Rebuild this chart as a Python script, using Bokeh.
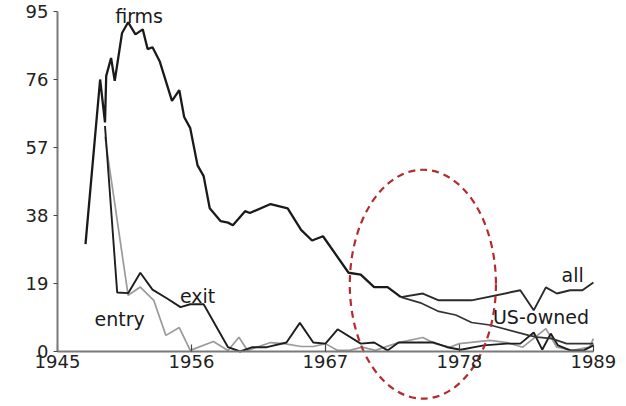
from bokeh.plotting import figure
from bokeh.models import Range1d, FixedTicker
from bokeh.core.properties import value
from bokeh.embed import file_html
from bokeh.resources import INLINE

# ---- data ----
firms_years = [1947.3, 1948.5, 1948.9, 1949.0, 1949.4, 1949.7, 1950.3, 1950.8, 1951.4, 1952.0,
               1952.4, 1952.8, 1953.4, 1954.4, 1955.0, 1955.4, 1955.9, 1956.5, 1957.0, 1957.5,
               1958.4, 1959.0, 1959.4, 1960.4, 1960.8, 1962.5, 1963.9, 1965.0, 1965.9, 1966.8,
               1968.9, 1969.9, 1971.0, 1972.1, 1973.2]
firms_values = [30, 76, 64, 77, 82, 75.6, 89, 92, 88.6, 90,
                84.5, 85, 81, 70, 73, 65.5, 62.4, 52, 49, 40,
                36.4, 36, 35.3, 39.2, 38.7, 41.2, 40, 34, 31, 32.2,
                22, 21.5, 18, 18, 15.2]

all_years = [1973.2, 1975.0, 1976.3, 1979.0, 1983.0, 1984.1, 1985.1, 1986.0, 1987.1, 1988.1, 1989.0]
all_values = [15.2, 16.2, 14.3, 14.3, 17.1, 11.5, 17.9, 16.2, 17.1, 17.1, 19.3]

us_years = [1973.2, 1974.8, 1976.3, 1977.7, 1979.0, 1980.5, 1983.7, 1984.4, 1985.6, 1986.8, 1989.0]
us_values = [15.2, 13.6, 11.2, 10.2, 8.1, 7.4, 4.5, 4.0, 3.6, 2.2, 2.2]

exit_years = [1948.9, 1949.9, 1950.8, 1951.8, 1952.8, 1954.0, 1955.1, 1955.9, 1957.0, 1959.0,
              1960.0, 1961.0, 1962.2, 1963.8, 1964.9, 1966.0, 1967.0, 1968.0, 1969.9, 1971.0,
              1972.1, 1973.0, 1974.8, 1975.9, 1977.0, 1978.1, 1980.0, 1981.9, 1983.0, 1984.1,
              1984.8, 1985.5, 1986.1, 1987.1, 1988.2, 1989.0]
exit_values = [63, 16.5, 16.3, 22, 17.3, 14.8, 12.4, 13.2, 13.2, 1.2,
               0.0, 1.2, 1.2, 2.5, 8.0, 2.5, 2.2, 6.2, 2.2, 2.5,
               0.3, 2.5, 2.5, 2.5, 1.2, 0.5, 1.7, 2.2, 2.2, 5.3,
               0.5, 5.0, 1.7, 0.3, 0.3, 1.7]

entry_years = [1948.9, 1950.8, 1951.8, 1952.9, 1953.9, 1955.0, 1955.9, 1957.8, 1959.0, 1959.9,
               1960.6, 1962.5, 1963.6, 1965.0, 1966.0, 1967.0, 1968.0, 1969.0, 1970.0, 1971.1,
               1973.0, 1975.0, 1976.0, 1977.2, 1978.0, 1980.5, 1981.9, 1983.2, 1985.1, 1986.0,
               1987.3, 1988.7, 1989.0]
entry_values = [60, 15.7, 18, 14.3, 4.5, 6.7, 0.3, 2.8, 0.3, 4.0,
                0.3, 2.5, 2.2, 1.4, 1.4, 2.2, 0.3, 0.3, 1.2, 0.3,
                2.5, 3.9, 2.2, 1.2, 2.2, 3.1, 2.5, 1.2, 6.4, 1.2,
                0.3, 1.2, 3.6]

x_ticks = [1945, 1956, 1967, 1978, 1989]
y_ticks = [0, 19, 38, 57, 76, 95]

label_texts = ["firms", "all", "US-owned", "exit", "entry"]
label_x = [1951.7, 1987.3, 1984.7, 1956.5, 1950.1]
label_y = [93.6, 21.4, 9.6, 15.5, 9.0]

highlight_x, highlight_y = 1975.0, 18.8
highlight_w, highlight_h = 12.0, 64.0

# ---- figure ----
FONT = "DejaVu Sans"
p = figure(width=626, height=406, output_backend="svg", toolbar_location=None,
           x_range=Range1d(1940.32, 1991.72), y_range=Range1d(-15.37, 98.07),
           min_border_left=0, min_border_right=0, min_border_top=0, min_border_bottom=0)
p.outline_line_color = None
p.grid.visible = False
p.background_fill_color = "white"
p.border_fill_color = "white"

p.xaxis.fixed_location = 0
p.yaxis.fixed_location = 1945
p.xaxis.ticker = FixedTicker(ticks=x_ticks)
p.yaxis.ticker = FixedTicker(ticks=y_ticks)
p.xaxis.bounds = (1945, 1989)
p.yaxis.bounds = (0, 95)
for ax in (p.xaxis[0], p.yaxis[0]):
    ax.axis_line_color = "#7a7a7a"
    ax.axis_line_width = 2
    ax.major_tick_line_color = "#444444"
    ax.major_tick_line_width = 1.2
    ax.minor_tick_line_color = None
    ax.major_label_text_font = FONT
    ax.major_label_text_font_size = "18px"
    ax.major_label_text_color = "#222222"
p.xaxis.major_tick_in = 7
p.xaxis.major_tick_out = 0
p.xaxis.major_label_standoff = 4
p.yaxis.major_tick_in = 0
p.yaxis.major_tick_out = 4
p.yaxis.major_label_standoff = 5

p.line(entry_years, entry_values, line_color="#9a9a9a", line_width=1.7)
p.line(exit_years, exit_values, line_color="#1e1e1e", line_width=1.9)
p.line(us_years, us_values, line_color="#333333", line_width=1.7)
p.line(all_years, all_values, line_color="#2a2a2a", line_width=1.9)
p.line(firms_years, firms_values, line_color="#1a1a1a", line_width=2.3)

p.text(x=label_x, y=label_y, text=label_texts, text_font=value(FONT),
       text_font_size="19px", text_align="center", text_baseline="middle",
       text_color="#1a1a1a")

p.ellipse(x=[highlight_x], y=[highlight_y], width=[highlight_w], height=[highlight_h],
          fill_color=None, line_color="#b52a2f", line_width=2.2, line_dash="7 5")

open("out.html", "w").write(file_html(p, INLINE))
